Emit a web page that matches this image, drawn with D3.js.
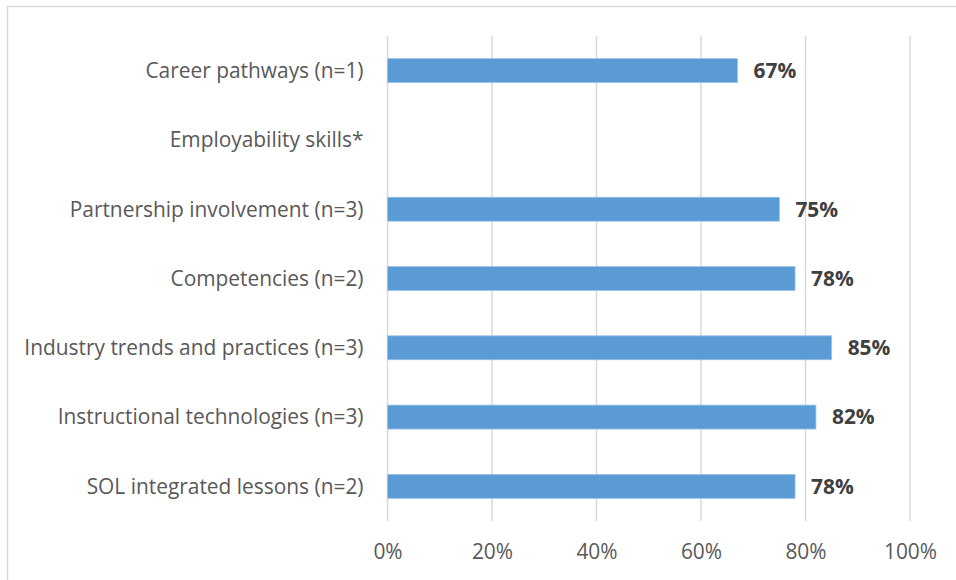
<!DOCTYPE html>
<html>
<head>
<meta charset="utf-8">
<script src="https://cdn.jsdelivr.net/npm/d3@7"></script>
<style>
  html, body { margin: 0; padding: 0; background: #fff; }
  svg { display: block; }
</style>
</head>
<body>
<svg id="chart" width="956" height="580"></svg>
<script>
// Categories, top to bottom
const categories = [
  "Career pathways (n=1)",
  "Employability skills*",
  "Partnership involvement (n=3)",
  "Competencies (n=2)",
  "Industry trends and practices (n=3)",
  "Instructional technologies (n=3)",
  "SOL integrated lessons (n=2)"
];
// Share of each category (null = no data reported)
const values = [0.67, null, 0.75, 0.78, 0.85, 0.82, 0.78];
const valueLabels = ["67%", "", "75%", "78%", "85%", "82%", "78%"];
const tickValues = [0, 0.2, 0.4, 0.6, 0.8, 1.0];

const svg = d3.select("#chart");
const font = "'Open Sans', Lato, sans-serif";
const fontSize = "20.9px";

// Outer chart frame
svg.append("rect")
  .attr("x", 7.5).attr("y", 6.5)
  .attr("width", 960).attr("height", 600)
  .attr("fill", "none").attr("stroke", "#d9d9d9").attr("stroke-width", 1.5);

const plot = { left: 387.5, right: 910, top: 36, bottom: 521 };

const x = d3.scaleLinear().domain([0, 1]).range([plot.left, plot.right]);
const y = d3.scaleBand().domain(categories).range([plot.top, plot.bottom]).paddingInner(0.654).paddingOuter(0.327);

// Vertical gridlines
svg.append("g").selectAll("line")
  .data(tickValues.slice(1))
  .join("line")
  .attr("x1", d => x(d)).attr("x2", d => x(d))
  .attr("y1", plot.top).attr("y2", plot.bottom)
  .attr("stroke", "#d9d9d9").attr("stroke-width", 1.5);

// Category axis line
svg.append("line")
  .attr("x1", x(0)).attr("x2", x(0))
  .attr("y1", plot.top).attr("y2", plot.bottom)
  .attr("stroke", "#d9d9d9").attr("stroke-width", 1.5);

// Bottom value axis labels
const xAxis = d3.axisBottom(x).tickValues(tickValues).tickFormat(d3.format(".0%")).tickSize(0).tickPadding(0);
const gx = svg.append("g").attr("transform", `translate(0, 559)`).call(xAxis);
gx.select(".domain").remove();
gx.selectAll("text")
  .attr("dy", 0).attr("y", 0)
  .attr("fill", "#595959")
  .style("font-family", font).style("font-size", fontSize);

// Category labels
svg.append("g").selectAll("text")
  .data(categories)
  .join("text")
  .attr("x", plot.left - 24)
  .attr("y", d => y(d) + y.bandwidth() / 2)
  .attr("dy", "0.35em")
  .attr("text-anchor", "end")
  .attr("fill", "#595959")
  .style("font-family", font).style("font-size", fontSize)
  .text(d => d);

const rows = categories.map((c, i) => ({ c, v: values[i], label: valueLabels[i] })).filter(d => d.v != null);

// Bars
svg.append("g").selectAll("rect")
  .data(rows)
  .join("rect")
  .attr("x", x(0))
  .attr("y", d => y(d.c))
  .attr("width", d => x(d.v) - x(0))
  .attr("height", y.bandwidth())
  .attr("fill", "#5b9bd5")
  .attr("stroke", "#9dc3e6").attr("stroke-width", 0.8);

// Value labels
svg.append("g").selectAll("text")
  .data(rows)
  .join("text")
  .attr("x", d => x(d.v) + 16)
  .attr("y", d => y(d.c) + y.bandwidth() / 2)
  .attr("dy", "0.35em")
  .attr("fill", "#404040")
  .style("font-family", font).style("font-size", fontSize).style("font-weight", "bold")
  .text(d => d.label);
</script>
</body>
</html>
